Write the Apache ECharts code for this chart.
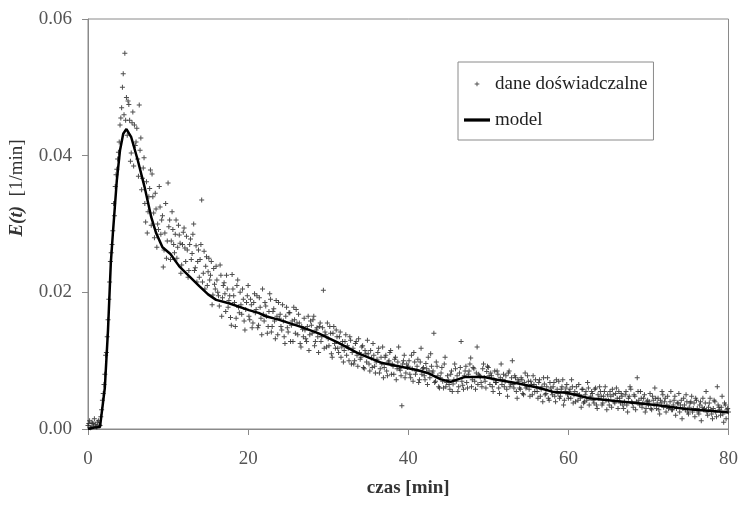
<!DOCTYPE html>
<html>
<head>
<meta charset="utf-8">
<script src="https://cdn.jsdelivr.net/npm/echarts@6/dist/echarts.min.js"></script>
<style>
  html, body { margin: 0; padding: 0; background: #fff; }
  #chart { width: 741px; height: 505px; }
</style>
</head>
<body>
<div id="chart"></div>
<script>
// model curve E(t)
const modelT = [0, 0.8, 1.5, 2.1, 2.5, 2.85, 3.1, 3.6, 4.0, 4.4, 4.8, 5.4, 6.2, 7.07, 7.9, 8.5, 9.3, 10.3, 11.4, 12.6,
  13.9, 15, 16, 17.6, 20.1, 21.3, 22.2, 23.8, 26.7, 28.8, 31.3, 33.7, 36.6, 39.1, 41.2, 42.4, 44, 45.3, 47, 49.5,
  51.1, 53.6, 56.4, 58.2, 59.8, 62.6, 66.8, 70.9, 75, 79.6, 80]
const modelE = [0, 0.0002, 0.0003, 0.006, 0.0145, 0.0243, 0.0285, 0.0364, 0.0408, 0.0432, 0.0439, 0.0427, 0.0394, 0.0354, 0.031, 0.0287, 0.0266, 0.0256, 0.0238, 0.0224,
  0.0209, 0.0197, 0.0189, 0.0184, 0.0174, 0.0170, 0.0165, 0.0160, 0.0149, 0.0140, 0.0126, 0.0111, 0.0097, 0.0091, 0.0086, 0.0082, 0.0073, 0.0069, 0.0076, 0.0076,
  0.0072, 0.0067, 0.0060, 0.0054, 0.0053, 0.0045, 0.0040, 0.0035, 0.0029, 0.0025, 0.0024]

// experimental points, sampled every 0.2 min: expEven from t = 0, expOdd from t = 0.1
const expStep = 0.2
const expEven = [
  .0005, .0012, .0003, .0008, .0015,  .0004, .0010, .0006, .0018, .0042,
  .0065, .0108, .0135, .0190, .0245,  .0270, .0330, .0355, .0380, .0405,
  .0445, .0470, .0520, .0550, .0485,  .0480, .0452, .0404, .0464, .0445,
  .0420, .0395, .0474, .0426, .0367,  .0397, .0303, .0287, .0340, .0379,
  .0373, .0316, .0345, .0266, .0292,  .0325, .0306, .0237, .0287, .0250,
  .0360, .0306, .0275, .0292, .0258,  .0306, .0266, .0284, .0228, .0270,
  .0294, .0245, .0262, .0232, .0278,  .0257, .0300, .0236, .0215, .0262,
  .0248, .0335, .0228, .0205, .0252,  .0230, .0218, .0245, .0196, .0212,
  .0238, .0200, .0180, .0225, .0192,  .0214, .0172, .0205, .0188, .0163,
  .0226, .0195, .0150, .0210, .0178,  .0200, .0168, .0190, .0145, .0185,
  .0210, .0160, .0182, .0155, .0198,  .0175, .0148, .0192, .0162, .0205,
  .0158, .0180, .0140, .0172, .0190,  .0150, .0176, .0132, .0165, .0185,
  .0168, .0145, .0158, .0125, .0178,  .0142, .0170, .0152, .0128, .0160,
  .0175, .0138, .0155, .0120, .0146,  .0162, .0132, .0150, .0115, .0158,
  .0140, .0165, .0128, .0148, .0112,  .0155, .0135, .0203, .0142, .0120,
  .0132, .0150, .0110, .0140, .0125,  .0145, .0118, .0135, .0105, .0128,
  .0115, .0138, .0122, .0100, .0130,  .0112, .0095, .0125, .0108, .0132,
  .0102, .0120, .0090, .0115, .0098,  .0110, .0085, .0104, .0125, .0092,
  .0098, .0112, .0082, .0105, .0120,  .0090, .0108, .0078, .0100, .0115,
  .0095, .0080, .0105, .0088, .0120,  .0086, .0034, .0100, .0075, .0095,
  .0092, .0080, .0108, .0070, .0098,  .0085, .0102, .0072, .0118, .0088,
  .0078, .0096, .0065, .0085, .0110,  .0082, .0140, .0070, .0092, .0062,
  .0075, .0090, .0060, .0105, .0068,  .0072, .0058, .0085, .0066, .0095,
  .0070, .0055, .0082, .0128, .0064,  .0078, .0092, .0060, .0085, .0104,
  .0072, .0088, .0058, .0120, .0080,  .0076, .0062, .0095, .0070, .0084,
  .0090, .0065, .0078, .0055, .0085,  .0068, .0080, .0052, .0095, .0072,
  .0062, .0078, .0048, .0085, .0066,  .0100, .0060, .0075, .0045, .0070,
  .0058, .0072, .0050, .0082, .0062,  .0070, .0048, .0065, .0078, .0055,
  .0062, .0045, .0072, .0058, .0040,  .0066, .0052, .0075, .0042, .0060,
  .0050, .0068, .0040, .0058, .0070,  .0048, .0062, .0035, .0055, .0065,
  .0045, .0058, .0072, .0038, .0055,  .0062, .0042, .0050, .0032, .0058,
  .0040, .0055, .0068, .0035, .0048,  .0052, .0038, .0060, .0030, .0045,
  .0055, .0035, .0048, .0062, .0028,  .0042, .0055, .0032, .0050, .0038,
  .0060, .0030, .0045, .0052, .0035,  .0040, .0055, .0025, .0048, .0058,
  .0038, .0050, .0028, .0075, .0042,  .0055, .0032, .0045, .0025, .0040,
  .0035, .0052, .0028, .0042, .0060,  .0030, .0045, .0022, .0038, .0050,
  .0040, .0025, .0048, .0032, .0055,  .0028, .0042, .0020, .0038, .0052,
  .0035, .0015, .0045, .0028, .0040,  .0022, .0038, .0048, .0030, .0018,
  .0042, .0025, .0035, .0012, .0045,  .0030, .0055, .0020, .0038, .0028,
  .0015, .0042, .0025, .0062, .0032,  .0020, .0048, .0010, .0035, .0028,
  .0025
]
const expOdd = [
  .0008, .0002, .0010, .0004, .0007,  .0003, .0012, .0005, .0028, .0052,
  .0080, .0112, .0160, .0215, .0258,  .0290, .0312, .0372, .0395, .0420,
  .0455, .0500, .0460, .0452, .0430,  .0475, .0392, .0448, .0385, .0415,
  .0440, .0370, .0408, .0350, .0382,  .0330, .0362, .0318, .0352, .0298,
  .0340, .0280, .0322, .0300, .0355,  .0285, .0312, .0262, .0330, .0275,
  .0296, .0248, .0318, .0270, .0285,  .0250, .0298, .0272, .0240, .0288,
  .0265, .0282, .0222, .0270, .0248,  .0285, .0232, .0268, .0245, .0222,
  .0270, .0215, .0260, .0238, .0210,  .0250, .0225, .0182, .0235, .0205,
  .0218, .0195, .0240, .0165, .0210,  .0198, .0225, .0178, .0195, .0152,
  .0205, .0185, .0162, .0218, .0170,  .0182, .0205, .0158, .0175, .0195,
  .0165, .0190, .0148, .0185, .0170,  .0195, .0152, .0178, .0138, .0168,
  .0185, .0165, .0150, .0198, .0142,  .0172, .0158, .0188, .0138, .0162,
  .0150, .0182, .0135, .0165, .0148,  .0170, .0128, .0158, .0178, .0140,
  .0155, .0168, .0125, .0150, .0135,  .0145, .0128, .0165, .0138, .0152,
  .0160, .0122, .0145, .0135, .0150,  .0128, .0148, .0118, .0138, .0155,
  .0122, .0140, .0105, .0150, .0118,  .0135, .0112, .0142, .0120, .0098,
  .0128, .0108, .0118, .0135, .0095,  .0118, .0100, .0128, .0092, .0112,
  .0105, .0122, .0088, .0110, .0130,  .0095, .0115, .0090, .0108, .0082,
  .0102, .0118, .0088, .0095, .0075,  .0105, .0085, .0098, .0112, .0080,
  .0092, .0102, .0072, .0098, .0088,  .0078, .0095, .0108, .0082, .0090,
  .0100, .0075, .0088, .0112, .0080,  .0092, .0068, .0098, .0080, .0090,
  .0072, .0088, .0105, .0075, .0092,  .0085, .0068, .0098, .0078, .0060,
  .0082, .0070, .0095, .0062, .0078,  .0065, .0080, .0055, .0072, .0088,
  .0078, .0062, .0090, .0070, .0058,  .0085, .0068, .0080, .0095, .0062,
  .0090, .0070, .0082, .0065, .0078,  .0068, .0088, .0075, .0060, .0092,
  .0078, .0082, .0062, .0072, .0068,  .0085, .0060, .0075, .0065, .0080,
  .0070, .0058, .0082, .0062, .0075,  .0065, .0078, .0055, .0072, .0060,
  .0075, .0052, .0068, .0060, .0078,  .0058, .0070, .0050, .0065, .0072,
  .0055, .0068, .0048, .0062, .0075,  .0050, .0062, .0045, .0068, .0055,
  .0062, .0048, .0072, .0052, .0045,  .0058, .0072, .0042, .0060, .0050,
  .0055, .0045, .0062, .0050, .0040,  .0052, .0065, .0045, .0058, .0038,
  .0050, .0042, .0060, .0045, .0055,  .0042, .0058, .0035, .0050, .0062,
  .0048, .0038, .0055, .0042, .0050,  .0035, .0048, .0058, .0040, .0052,
  .0045, .0055, .0038, .0048, .0030,  .0050, .0035, .0045, .0062, .0040,
  .0032, .0048, .0040, .0055, .0035,  .0045, .0038, .0050, .0030, .0042,
  .0040, .0030, .0048, .0035, .0045,  .0038, .0028, .0042, .0055, .0032,
  .0045, .0035, .0030, .0040, .0028,  .0035, .0048, .0030, .0038, .0025,
  .0042, .0030, .0035, .0050, .0025,  .0032, .0040, .0025, .0038, .0045,
  .0030, .0022, .0040, .0032, .0028,  .0038, .0025, .0032, .0045, .0022,
  .0030, .0040, .0018, .0035, .0028,  .0032, .0022, .0038, .0015, .0030
]

const xTicks = { min: 0, max: 80, interval: 20 }
const yTicks = { min: 0, max: 0.06, interval: 0.02 }

const serif = '"Liberation Serif", "Times New Roman", serif'
const axisGray = '#8a8a8a'
const labelGray = '#555'

let myChart = echarts.init(document.getElementById('chart'))

const expPoints = expEven.map((v, i) => [+(i * expStep).toFixed(1), v])
  .concat(expOdd.map((v, i) => [+(0.1 + i * expStep).toFixed(1), v]))
const modelPoints = modelT.map((t, i) => [t, modelE[i]])

const plusIcon = 'path://M2,0H3V2H5V3H3V5H2V3H0V2H2Z'
// same plus, with empty margin so the legend draws it small
const plusLegendIcon = 'path://M0,0L0.01,0ZM7,5H8V7H10V8H8V10H7V8H5V7H7ZM15,15L15.01,15Z'
const lineLegendIcon = 'path://M0,0H24V3H0Z'

myChart.setOption({
  animation: false,
  backgroundColor: '#fff',
  grid: {
    left: 88,
    right: 8,
    top: 19,
    bottom: 76,
    show: true,
    borderColor: axisGray,
    borderWidth: 1
  },
  legend: {
    orient: 'vertical',
    left: 458,
    top: 62,
    padding: [11, 6, 9, 6],
    itemGap: 14,
    itemWidth: 26,
    itemHeight: 14,
    borderColor: axisGray,
    borderWidth: 1,
    textStyle: { fontFamily: serif, fontSize: 19, lineHeight: 22, color: '#222' },
    data: [
      { name: 'dane doświadczalne', icon: plusLegendIcon },
      { name: 'model', icon: lineLegendIcon }
    ]
  },
  xAxis: {
    type: 'value',
    min: xTicks.min,
    max: xTicks.max,
    interval: xTicks.interval,
    name: 'czas [min]',
    nameLocation: 'middle',
    nameGap: 50,
    nameTextStyle: { fontFamily: serif, fontSize: 19, fontWeight: 'bold', color: '#333' },
    axisLine: { lineStyle: { color: axisGray } },
    axisTick: { length: 6, lineStyle: { color: axisGray } },
    axisLabel: { fontFamily: serif, fontSize: 19, color: labelGray, margin: 21 },
    splitLine: { show: false }
  },
  yAxis: {
    type: 'value',
    min: yTicks.min,
    max: yTicks.max,
    interval: yTicks.interval,
    name: '{b|E(t)}  [1/min]',
    nameLocation: 'middle',
    nameRotate: 90,
    nameGap: 61,
    nameTextStyle: {
      fontFamily: serif, fontSize: 19, color: '#333',
      padding: [0, 0, 0, 72],
      rich: { b: { fontFamily: serif, fontSize: 19, fontWeight: 'bold', fontStyle: 'italic', color: '#333' } }
    },
    axisLine: { show: true, lineStyle: { color: axisGray } },
    axisTick: { show: true, length: 6, lineStyle: { color: axisGray } },
    axisLabel: {
      fontFamily: serif, fontSize: 19, color: labelGray, margin: 16,
      formatter: v => v.toFixed(2)
    },
    splitLine: { show: false }
  },
  series: [
    {
      name: 'dane doświadczalne',
      type: 'scatter',
      symbol: plusIcon,
      symbolSize: 5,
      itemStyle: { color: '#222' },
      data: expPoints,
      z: 2
    },
    {
      name: 'model',
      type: 'line',
      showSymbol: false,
      symbol: 'none',
      smooth: false,
      lineStyle: { color: '#000', width: 2.5 },
      itemStyle: { color: '#000' },
      data: modelPoints,
      z: 3
    }
  ]
})
</script>
</body>
</html>
